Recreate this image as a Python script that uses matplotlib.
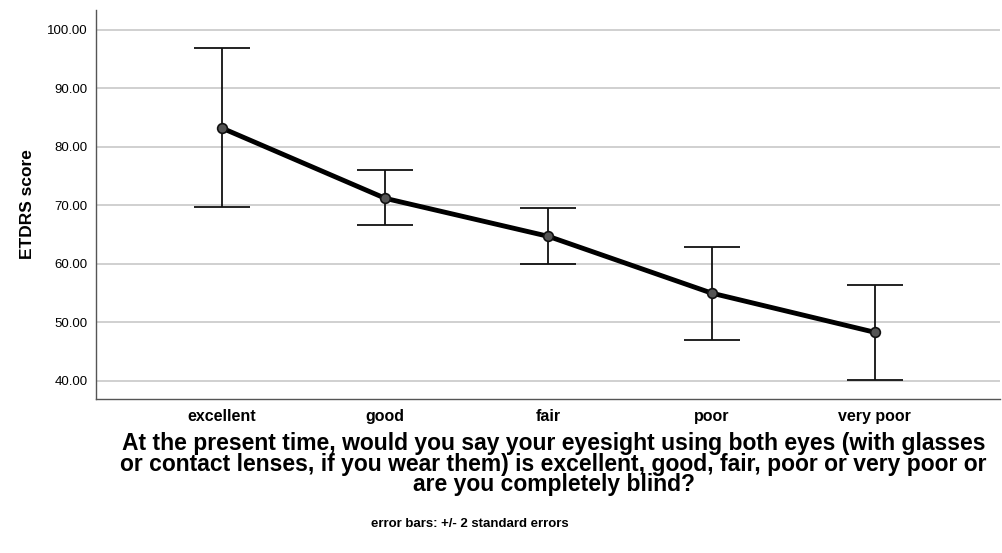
import numpy as np
import matplotlib.pyplot as plt

plt.rcParams['font.family'] = ['Liberation Sans', 'DejaVu Sans']

# Data
categories = ['excellent', 'good', 'fair', 'poor', 'very poor']
mean_score = [83.2, 71.2, 64.7, 55.0, 48.3]
upper = [96.9, 76.0, 69.5, 62.9, 56.4]
lower = [69.7, 66.6, 59.9, 47.0, 40.2]

x = np.arange(len(categories))
mean_score = np.array(mean_score)
yerr = [mean_score - np.array(lower), np.array(upper) - mean_score]

fig = plt.figure(figsize=(10.03, 5.53), dpi=100)
ax = fig.add_axes([96 / 1003, 1 - 399 / 553, 904 / 1003, 389 / 553])

ax.errorbar(x, mean_score, yerr=yerr, fmt='none', ecolor='#111111',
            elinewidth=1.3, capsize=20, capthick=1.3, zorder=3)
ax.plot(x, mean_score, color='black', linewidth=3.5, zorder=4)
ax.plot(x, mean_score, 'o', markersize=7, markerfacecolor='#555555',
        markeredgecolor='#111111', markeredgewidth=1.2, zorder=5)

ax.set_xlim(-0.773, 4.767)
ax.set_ylim(36.9, 103.4)
ax.set_yticks(np.arange(40, 101, 10))
ax.set_yticklabels([f'{v:.2f}' for v in np.arange(40, 101, 10)], fontsize=9.5)
ax.set_xticks(x)
ax.set_xticklabels(categories, fontsize=11.5, fontweight='bold')
ax.tick_params(axis='both', length=0)
ax.tick_params(axis='x', pad=7)
ax.tick_params(axis='y', pad=6)

ax.grid(axis='y', color='#c8c8c8', linewidth=1.2)
ax.set_axisbelow(True)
for s in ['top', 'right']:
    ax.spines[s].set_visible(False)
for s in ['left', 'bottom']:
    ax.spines[s].set_color('#555555')
    ax.spines[s].set_linewidth(1.0)

ax.set_ylabel('ETDRS score', fontsize=12.5, fontweight='bold', labelpad=9)

fig.text(0.552, 1 - 464 / 553,
         'At the present time, would you say your eyesight using both eyes (with glasses\n'
         'or contact lenses, if you wear them) is excellent, good, fair, poor or very poor or\n'
         'are you completely blind?',
         ha='center', va='center', fontsize=16.5, fontweight='bold', linespacing=0.88)
fig.text(0.468, 1 - 524 / 553, 'error bars: +/- 2 standard errors',
         ha='center', va='center', fontsize=9.5, fontweight='bold')

fig.savefig('out.png', dpi=100)
